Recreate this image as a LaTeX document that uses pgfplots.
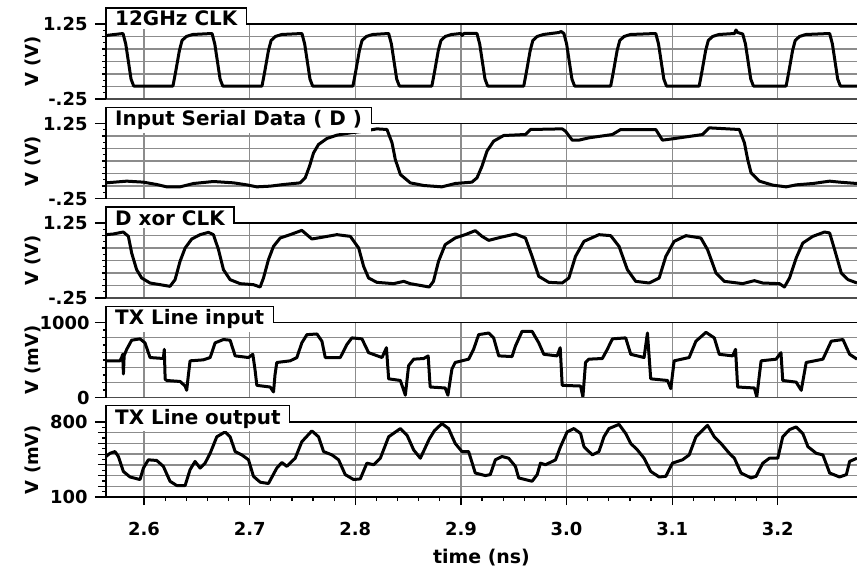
\documentclass[border=0pt]{standalone}
\usepackage{pgfplots}
\pgfplotsset{compat=1.18}
\usepackage{fontspec}
\setmainfont{DejaVu Sans}

\pgfplotsset{
  panel/.style={
    width=751bp, height=75bp, scale only axis,
    xmin=2.564, xmax=3.275,
    clip mode=individual,
    axis line style={draw=none},
    xtick={2.6,2.7,2.8,2.9,3.0,3.1,3.2}, xticklabels={}, xmajorgrids,
    ymajorgrids, yticklabels={},
    tick align=outside, xtick pos=left, ytick pos=left,
    major grid style={black!45, line width=1.3bp},
    tick style={black, line width=1.2bp},
    major tick length=4bp, minor tick length=3bp,
    extra y tick style={grid=none},
    tick label style={font=\fontsize{18}{18}\selectfont\bfseries},
    yticklabel style={xshift=-11bp},
    xticklabel style={yshift=-14bp},
    every axis y label/.style={at={(axis description cs:-0.097,0.5)}, anchor=center, rotate=90,
      font=\fontsize{18}{18}\selectfont\bfseries},
  },
  volts/.style={ymin=-0.25, ymax=1.25, ytick={0,0.25,0.5,0.75,1},
    minor ytick={-0.125,0.125,0.375,0.625,0.875,1.125},
    extra y ticks={-0.25,1.25}, extra y tick labels={-.25,1.25}, ylabel={V (V)}},
}
\tikzset{
  sig/.style={black, line width=3bp, line join=round},
  tab/.style={fill=white, inner xsep=9bp, inner ysep=3bp, font=\fontsize{20}{20}\selectfont\bfseries},
}
% frame: gray bottom, left axis with end dashes, tab with the title and top line
\newcommand{\frameit}[2]{%
  \coordinate (tl) at (rel axis cs:0,1);
  \coordinate (tr) at (rel axis cs:1,1);
  \coordinate (bl) at (rel axis cs:0,0);
  \draw[#2, line width=1.5bp] (bl) -- (rel axis cs:1,0);
  \node[tab, anchor=base west] (t) at ([yshift=-2bp]tl) {#1};
  \draw[black, line width=1.6bp] (bl) -- (tl);
  \draw[black, line width=1.3bp] ([xshift=-11bp]tl) -- (tl) |- (t.north east) -- (t.north east |- tl) -- (tr);
  \draw[black, line width=1.3bp] ([xshift=-11bp]bl) -- (bl);
}

\begin{document}
\begin{tikzpicture}
\useasboundingbox (-106bp,24bp) rectangle (751bp,-545bp);

\begin{axis}[panel, volts, at={(0,-75bp)}, xtick style={draw=none}]
\addplot[sig] coordinates {
(2.564,1.02)(2.572,1.04)(2.5801,1.06)(2.5827,0.85)(2.5852,0.5)(2.5877,0.15)(2.5902,0.01)
(2.6274,0.01)(2.6300,0.30)(2.6335,0.72)(2.6360,0.92)(2.6400,1.0)(2.6460,1.04)(2.6644,1.06)(2.6670,0.85)(2.6695,0.5)(2.6720,0.15)(2.6745,0.01)
(2.7117,0.01)(2.7143,0.30)(2.7178,0.72)(2.7203,0.92)(2.7243,1.0)(2.7303,1.04)(2.7495,1.06)(2.7521,0.85)(2.7546,0.5)(2.7571,0.15)(2.7596,0.01)
(2.7978,0.01)(2.8004,0.30)(2.8039,0.72)(2.8064,0.92)(2.8104,1.0)(2.8164,1.04)(2.8316,1.06)(2.8342,0.85)(2.8367,0.5)(2.8392,0.15)(2.8417,0.01)
(2.8725,0.01)(2.8751,0.30)(2.8786,0.72)(2.8811,0.92)(2.8851,1.0)(2.8911,1.04)(2.9000,1.06)(2.9010,1.02)(2.9030,1.06)(2.9152,1.06)(2.9178,0.85)(2.9203,0.5)(2.9228,0.15)(2.9253,0.01)
(2.9595,0.01)(2.9621,0.30)(2.9656,0.72)(2.9681,0.92)(2.9721,1.0)(2.9781,1.04)(2.9927,1.08)(2.9950,1.10)(2.9975,1.06)(3.0001,0.85)(3.0026,0.5)(3.0051,0.15)(3.0076,0.01)
(3.0418,0.01)(3.0444,0.30)(3.0479,0.72)(3.0504,0.92)(3.0544,1.0)(3.0604,1.04)(3.0845,1.06)(3.0871,0.85)(3.0896,0.5)(3.0921,0.15)(3.0946,0.01)
(3.1256,0.01)(3.1282,0.30)(3.1317,0.72)(3.1342,0.92)(3.1382,1.0)(3.1442,1.04)(3.1590,1.06)(3.1604,1.13)(3.1620,1.08)(3.1668,1.05)(3.1694,0.85)(3.1719,0.5)(3.1744,0.15)(3.1769,0.01)
(3.2079,0.01)(3.2105,0.30)(3.2140,0.72)(3.2165,0.92)(3.2205,1.0)(3.2265,1.04)(3.2491,1.06)(3.2517,0.85)(3.2542,0.5)(3.2567,0.15)(3.2592,0.01)(3.275,0.01)
};
\frameit{12GHz CLK}{black!70}
\end{axis}

\begin{axis}[panel, volts, at={(0,-174.5bp)}, xtick style={draw=none}]
\addplot[sig] coordinates {
(2.564,0.063)(2.5836,0.097)(2.5994,0.077)(2.612,0.03)(2.6215,-0.017)(2.6341,-0.017)(2.6468,0.05)(2.6657,0.09)
(2.6847,0.063)(2.6973,0.023)(2.7068,-0.017)(2.7194,-0.003)(2.7321,0.03)(2.7479,0.063)(2.7526,0.163)(2.7567,0.397)
(2.7605,0.663)(2.7652,0.83)(2.7731,0.95)(2.7826,1.017)(2.7953,1.063)(2.8079,1.097)(2.8205,1.143)(2.83,1.13)
(2.8348,0.863)(2.8379,0.53)(2.8427,0.23)(2.8521,0.063)(2.8648,0.01)(2.882,-0.017)(2.8946,0.05)(2.9104,0.077)
(2.9152,0.163)(2.92,0.397)(2.9247,0.697)(2.931,0.897)(2.9405,1.01)(2.9611,1.03)(2.9658,1.13)(2.9959,1.143)
(2.999,1.097)(3.0054,0.917)(3.0117,0.917)(3.0212,0.963)(3.0434,1.03)(3.0513,1.13)(3.0845,1.13)(3.0908,0.917)
(3.1003,0.943)(3.1288,1.03)(3.1351,1.163)(3.1636,1.13)(3.1684,0.863)(3.1715,0.53)(3.1747,0.263)(3.1826,0.097)
(3.1953,0.017)(3.2079,-0.017)(3.2174,0.023)(3.2332,0.05)(3.2491,0.097)(3.2585,0.077)(3.275,0.05)
};
\frameit{Input Serial Data ( D )}{black!70}
\end{axis}

\begin{axis}[panel, volts, at={(0,-274bp)}, xtick style={draw=none}]
\addplot[sig] coordinates {
(2.564,1.017)(2.5709,1.03)(2.5804,1.07)(2.5852,0.983)(2.5883,0.65)(2.593,0.317)(2.5978,0.15)(2.6057,0.05)
(2.6152,0.017)(2.6246,-0.017)(2.6294,0.117)(2.6341,0.483)(2.6389,0.75)(2.6452,0.93)(2.6531,1.017)(2.661,1.063)
(2.6657,1.017)(2.6705,0.717)(2.6752,0.317)(2.6815,0.117)(2.691,0.037)(2.7036,0.017)(2.7099,-0.03)(2.7131,0.15)
(2.7178,0.517)(2.7226,0.783)(2.7289,0.95)(2.7384,1.017)(2.7494,1.103)(2.7589,0.93)(2.77,0.97)(2.7826,1.017)
(2.7953,0.983)(2.8032,0.75)(2.8079,0.383)(2.8126,0.15)(2.8205,0.063)(2.8363,0.037)(2.8458,0.083)(2.8521,0.037)
(2.8700,-0.03)(2.874,0.083)(2.8788,0.483)(2.8851,0.817)(2.8946,0.95)(2.9041,1.017)(2.9136,1.097)(2.92,0.983)
(2.9263,0.903)(2.9389,0.97)(2.9516,1.03)(2.9611,0.95)(2.9674,0.583)(2.9737,0.183)(2.9832,0.063)(2.9959,0.05)
(3.0022,0.15)(3.0085,0.583)(3.0165,0.883)(3.0307,1.017)(3.0418,0.997)(3.0497,0.783)(3.0576,0.317)(3.0655,0.083)
(3.0782,0.05)(3.0877,0.15)(3.094,0.583)(3.1019,0.883)(3.113,0.997)(3.1272,0.95)(3.1335,0.717)(3.1415,0.25)
(3.1494,0.083)(3.1668,0.037)(3.1778,0.097)(3.1858,0.05)(3.2016,0.037)(3.2063,-0.03)(3.2111,0.15)(3.2174,0.55)
(3.2237,0.85)(3.2332,0.983)(3.2443,1.07)(3.2491,1.05)(3.2538,0.717)(3.2601,0.25)(3.2665,0.117)(3.275,0.05)
};
\frameit{D xor CLK}{black!70}
\end{axis}

\begin{axis}[panel, at={(0,-373.5bp)}, xtick style={draw=none},
  ymin=0, ymax=1000, ytick={200,400,600,800}, minor ytick={100,300,500,700,900},
  extra y ticks={0,1000}, extra y tick labels={0,1000}, ylabel={V (mV)},
  yticklabel style={xshift=2bp}]
\addplot[sig] coordinates {
(2.564,489)(2.5773,489)(2.5790,540)(2.5798,576)(2.5805,314)(2.5812,560)(2.5836,642)(2.5883,764)(2.5962,782)
(2.6009,729)(2.6057,533)(2.6183,520)(2.6192,642)(2.6200,245)(2.6215,227)(2.6341,214)(2.6389,153)(2.6404,96)
(2.6420,300)(2.6436,489)(2.6562,502)(2.6626,533)(2.6673,729)(2.6752,773)(2.6815,764)(2.6863,555)(2.6989,533)
(2.7030,576)(2.7052,358)(2.7068,162)(2.7194,140)(2.7226,74)(2.7240,300)(2.7257,467)(2.7384,489)(2.7447,533)
(2.7494,729)(2.7542,838)(2.7637,847)(2.7684,751)(2.7716,533)(2.7858,533)(2.7921,707)(2.7968,795)(2.8063,782)
(2.8126,598)(2.8253,533)(2.8295,664)(2.8316,249)(2.8427,227)(2.8474,31)(2.8505,424)(2.8553,511)(2.8648,520)
(2.8690,555)(2.8709,140)(2.8851,127)(2.8877,31)(2.8915,380)(2.8946,467)(2.9073,511)(2.9120,642)(2.9168,838)
(2.9263,860)(2.9310,795)(2.9358,555)(2.9484,546)(2.9516,686)(2.9579,882)(2.9674,882)(2.9737,729)(2.9785,576)
(2.9911,555)(2.9940,664)(2.9959,162)(3.0133,153)(3.0155,9)(3.0180,467)(3.0212,511)(3.0339,520)(3.0386,642)
(3.0434,782)(3.0560,795)(3.0608,576)(3.0734,533)(3.0766,860)(3.0797,249)(3.0956,227)(3.0987,118)(3.1019,489)
(3.1161,533)(3.1225,751)(3.1320,869)(3.1399,795)(3.1446,576)(3.1573,555)(3.1600,642)(3.1620,140)(3.1778,127)
(3.1801,9)(3.1842,489)(3.1984,511)(3.2030,598)(3.2047,227)(3.2174,205)(3.2222,96)(3.2269,467)(3.2427,511)
(3.2506,751)(3.2617,773)(3.2680,576)(3.275,511)
};
\frameit{TX Line input}{black!70}
\end{axis}

\begin{axis}[panel, at={(0,-473bp)},
  ymin=100, ymax=800, ytick={200,300,400,500,600,700}, minor ytick={150,250,350,450,550,650,750},
  extra y ticks={100,800}, extra y tick labels={100,800}, ylabel={V (mV)},
  xticklabels={2.6,2.7,2.8,2.9,3.0,3.1,3.2}, minor x tick num=4,
  major tick length=8bp, minor tick length=4bp,
  yticklabel style={xshift=4bp},
  xlabel={time (ns)},
  xlabel style={at={(axis description cs:0.5,0)}, anchor=center, yshift=-61bp,
    font=\fontsize{19}{19}\selectfont\bfseries}]
\addplot[sig] coordinates {
(2.564,478)(2.5678,508)(2.5725,524)(2.5757,478)(2.5804,339)(2.5867,287)(2.5962,263)(2.5994,370)(2.6041,447)
(2.612,441)(2.6183,386)(2.6246,247)(2.631,207)(2.6389,207)(2.6436,355)(2.6483,432)(2.6531,370)(2.6578,416)
(2.6626,508)(2.6689,662)(2.6768,708)(2.6815,662)(2.6863,524)(2.6926,493)(2.6989,447)(2.7036,293)(2.71,238)
(2.7178,226)(2.7257,370)(2.7305,422)(2.7352,386)(2.7431,462)(2.7494,616)(2.7589,717)(2.7652,662)(2.77,524)
(2.7779,493)(2.7842,447)(2.7905,309)(2.7984,263)(2.8047,269)(2.811,416)(2.8174,401)(2.8237,462)(2.8316,662)
(2.8427,739)(2.849,677)(2.8553,539)(2.8616,462)(2.8700,640)(2.8750,720)(2.882,785)(2.8883,739)(2.8946,600)
(2.901,524)(2.9073,524)(2.9136,324)(2.9231,300)(2.9278,309)(2.9326,447)(2.9389,478)(2.9452,462)(2.9516,386)
(2.9547,278)(2.9674,247)(2.9722,309)(2.9753,416)(2.9801,401)(2.9896,447)(2.9943,570)(3.0006,708)(3.007,739)
(3.0133,693)(3.0165,570)(3.0244,493)(3.0307,524)(3.0354,662)(3.0402,739)(3.0497,778)(3.056,693)(3.0608,600)
(3.0671,539)(3.0734,462)(3.0797,339)(3.0877,287)(3.094,293)(3.1003,416)(3.1098,447)(3.1161,493)(3.1225,662)
(3.1335,769)(3.1399,662)(3.1462,600)(3.1541,508)(3.1589,462)(3.1652,324)(3.1747,278)(3.1794,293)(3.1858,416)
(3.1921,462)(3.2,462)(3.2047,662)(3.2111,729)(3.2174,754)(3.2237,693)(3.2285,570)(3.2364,508)(3.2427,493)
(3.2491,324)(3.2585,287)(3.2649,309)(3.268,432)(3.275,462)
};
\frameit{TX Line output}{black}
\end{axis}
\end{tikzpicture}
\end{document}
